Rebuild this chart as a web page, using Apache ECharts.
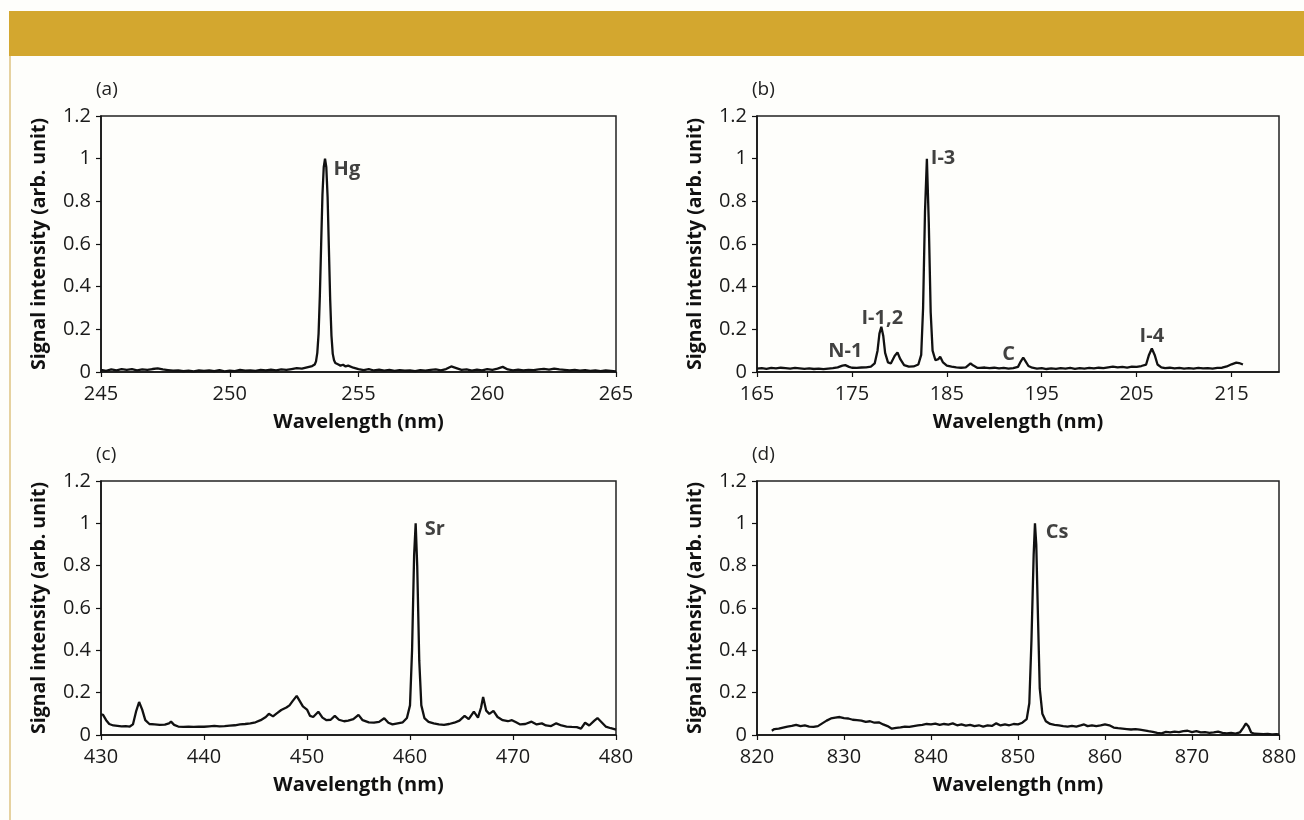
<!DOCTYPE html>
<html>
<head>
<meta charset="utf-8">
<script src="https://cdn.jsdelivr.net/npm/echarts@6/dist/echarts.min.js"></script>
<style>
html,body{margin:0;padding:0;background:#fefefb;}
#chart{width:1304px;height:820px;}
</style>
</head>
<body>
<div id="chart"></div>
<script>
// ---------- DATA ----------
const yTicks = [0, 0.2, 0.4, 0.6, 0.8, 1, 1.2];

// (a) Hg
const hgTicks = [245, 250, 255, 260, 265];
const hgWavelength = [245.0,245.2,245.4,245.6,245.8,246.0,246.2,246.4,246.6,246.8,247.0,247.2,247.4,247.6,247.8,248.0,248.2,248.4,248.6,248.8,249.0,249.2,249.4,249.6,249.8,250.0,250.2,250.4,250.6,250.8,251.0,251.2,251.4,251.6,251.8,252.0,252.2,252.4,252.6,252.8,253.0,253.2,253.3,253.35,253.4,253.45,253.5,253.55,253.6,253.65,253.7,253.75,253.8,253.85,253.9,253.95,254.0,254.05,254.1,254.2,254.3,254.4,254.5,254.6,254.8,255.0,255.2,255.4,255.6,255.8,256.0,256.2,256.4,256.6,256.8,257.0,257.2,257.4,257.6,257.8,258.0,258.2,258.4,258.6,258.8,259.0,259.2,259.4,259.6,259.8,260.0,260.2,260.4,260.6,260.8,261.0,261.2,261.4,261.6,261.8,262.0,262.2,262.4,262.6,262.8,263.0,263.2,263.4,263.6,263.8,264.0,264.2,264.4,264.6,264.8,265.0];
const hgIntensity = [0.010,0.005,0.012,0.008,0.014,0.010,0.013,0.008,0.012,0.010,0.014,0.017,0.012,0.009,0.006,0.008,0.004,0.006,0.003,0.007,0.005,0.008,0.004,0.009,0.003,0.006,0.004,0.010,0.006,0.008,0.005,0.010,0.007,0.011,0.008,0.012,0.010,0.014,0.018,0.016,0.022,0.028,0.035,0.050,0.090,0.180,0.360,0.600,0.830,0.960,1.000,0.960,0.820,0.580,0.340,0.170,0.085,0.055,0.042,0.036,0.030,0.034,0.026,0.030,0.020,0.014,0.009,0.013,0.007,0.011,0.006,0.010,0.005,0.009,0.006,0.008,0.004,0.009,0.006,0.010,0.012,0.008,0.014,0.026,0.018,0.010,0.012,0.006,0.011,0.008,0.014,0.010,0.016,0.024,0.012,0.008,0.011,0.007,0.010,0.009,0.012,0.015,0.011,0.016,0.012,0.010,0.007,0.010,0.006,0.009,0.005,0.008,0.004,0.007,0.005,0.003];
const hgLabels = [[254.55, 0.95, 'Hg']];

// (b) iodine
const iTicks = [165, 175, 185, 195, 205, 215];
const iWavelength = [165.0,165.5,166.0,166.5,167.0,167.5,168.0,168.5,169.0,169.5,170.0,170.5,171.0,171.5,172.0,172.5,173.0,173.5,174.0,174.3,174.7,175.0,175.5,176.0,176.5,177.0,177.4,177.7,177.9,178.1,178.3,178.5,178.8,179.1,179.5,179.8,180.1,180.5,181.0,181.5,182.0,182.3,182.5,182.7,182.9,183.1,183.3,183.5,183.8,184.1,184.3,184.6,185.0,185.5,186.0,186.5,187.0,187.5,187.8,188.2,188.5,189.0,189.5,190.0,190.5,191.0,191.5,192.0,192.5,192.8,193.05,193.3,193.6,194.0,194.5,195.0,195.5,196.0,196.5,197.0,197.5,198.0,198.5,199.0,199.5,200.0,200.5,201.0,201.5,202.0,202.5,203.0,203.5,204.0,204.5,205.0,205.5,206.0,206.3,206.6,206.9,207.2,207.6,208.0,208.5,209.0,209.5,210.0,210.5,211.0,211.5,212.0,212.5,213.0,213.5,214.0,214.5,215.0,215.5,215.8,216.2];
const iIntensity = [0.016,0.018,0.015,0.019,0.017,0.020,0.018,0.016,0.019,0.017,0.015,0.017,0.014,0.016,0.013,0.016,0.018,0.022,0.030,0.032,0.024,0.020,0.019,0.021,0.022,0.025,0.040,0.100,0.180,0.212,0.170,0.090,0.045,0.040,0.075,0.092,0.060,0.032,0.025,0.026,0.035,0.080,0.300,0.750,1.000,0.700,0.280,0.100,0.055,0.060,0.072,0.045,0.030,0.025,0.022,0.020,0.022,0.040,0.030,0.020,0.019,0.021,0.018,0.020,0.017,0.019,0.016,0.018,0.024,0.050,0.068,0.050,0.028,0.020,0.016,0.018,0.014,0.017,0.015,0.018,0.016,0.019,0.015,0.018,0.016,0.019,0.017,0.020,0.018,0.022,0.025,0.022,0.024,0.021,0.025,0.024,0.028,0.035,0.080,0.110,0.080,0.035,0.022,0.018,0.020,0.017,0.019,0.016,0.018,0.016,0.019,0.017,0.018,0.016,0.019,0.020,0.026,0.036,0.044,0.042,0.035];
const iLabels = [[174.3, 0.096, 'N-1'], [178.2, 0.25, 'I-1,2'], [184.6, 1.0, 'I-3'], [191.5, 0.083, 'C'], [206.6, 0.167, 'I-4']];

// (c) Sr
const srTicks = [430, 440, 450, 460, 470, 480];
const srWavelength = [430.0,430.2,430.5,430.8,431.2,431.6,432.0,432.4,432.8,433.1,433.4,433.7,434.0,434.3,434.7,435.2,435.7,436.2,436.6,436.8,437.1,437.5,438.0,438.5,439.0,439.5,440.0,440.5,441.0,441.5,442.0,442.5,443.0,443.5,444.0,444.5,445.0,445.5,446.0,446.3,446.7,447.0,447.5,448.0,448.3,448.6,449.0,449.3,449.6,450.0,450.3,450.6,451.1,451.5,451.9,452.3,452.7,453.1,453.6,454.0,454.5,455.0,455.4,456.0,456.5,457.0,457.5,457.9,458.3,458.8,459.3,459.7,460.0,460.2,460.4,460.55,460.7,460.9,461.1,461.4,461.8,462.3,462.8,463.3,463.8,464.3,464.8,465.3,465.7,466.2,466.6,466.9,467.1,467.4,467.7,468.1,468.5,469.0,469.5,469.9,470.3,470.7,471.2,471.8,472.3,472.8,473.2,473.7,474.2,474.7,475.2,475.7,476.2,476.6,477.0,477.4,477.9,478.2,478.6,479.0,479.5,480.0];
const srIntensity = [0.098,0.095,0.070,0.052,0.045,0.043,0.041,0.042,0.040,0.050,0.110,0.156,0.120,0.070,0.052,0.050,0.048,0.049,0.055,0.063,0.048,0.040,0.038,0.039,0.038,0.040,0.039,0.041,0.043,0.041,0.042,0.044,0.046,0.050,0.052,0.055,0.060,0.070,0.085,0.100,0.088,0.100,0.118,0.130,0.140,0.160,0.185,0.160,0.135,0.120,0.090,0.085,0.110,0.082,0.070,0.072,0.090,0.072,0.065,0.068,0.075,0.095,0.070,0.060,0.058,0.062,0.079,0.058,0.050,0.055,0.060,0.080,0.140,0.400,0.850,1.000,0.800,0.350,0.140,0.080,0.062,0.055,0.050,0.048,0.052,0.058,0.068,0.090,0.075,0.110,0.082,0.130,0.180,0.115,0.100,0.114,0.085,0.070,0.065,0.070,0.060,0.050,0.052,0.063,0.050,0.055,0.045,0.042,0.055,0.045,0.040,0.038,0.037,0.030,0.058,0.045,0.068,0.080,0.060,0.040,0.032,0.025];
const srLabels = [[462.4, 0.97, 'Sr']];

// (d) Cs
const csTicks = [820, 830, 840, 850, 860, 870, 880];
const csWavelength = [821.7,822.0,822.5,823.0,823.5,824.0,824.5,825.0,825.5,826.0,826.5,827.0,827.5,828.0,828.5,829.0,829.5,830.0,830.5,831.0,831.5,832.0,832.5,833.0,833.5,834.0,834.5,835.0,835.5,836.0,836.5,837.0,837.5,838.0,838.5,839.0,839.5,840.0,840.5,841.0,841.5,842.0,842.5,843.0,843.5,844.0,844.5,845.0,845.5,846.0,846.5,847.0,847.5,848.0,848.5,849.0,849.5,850.0,850.5,851.0,851.3,851.55,851.8,851.95,852.1,852.3,852.5,852.8,853.2,853.7,854.2,854.7,855.2,855.7,856.2,856.7,857.2,857.6,858.0,858.5,859.0,859.5,860.0,860.5,861.0,861.5,862.0,862.5,863.0,863.5,864.0,864.5,865.0,865.5,866.0,866.5,867.0,867.5,868.0,868.5,869.0,869.5,870.0,870.5,871.0,871.5,872.0,872.5,873.0,873.5,874.0,874.5,875.0,875.5,875.9,876.2,876.5,876.8,877.2,877.7,878.2,878.7,879.2,879.7,880.0];
const csIntensity = [0.020,0.028,0.030,0.035,0.040,0.043,0.048,0.042,0.045,0.040,0.038,0.042,0.055,0.068,0.078,0.082,0.085,0.080,0.078,0.072,0.070,0.068,0.062,0.065,0.058,0.060,0.050,0.042,0.030,0.034,0.036,0.040,0.038,0.042,0.045,0.048,0.052,0.050,0.054,0.048,0.052,0.049,0.055,0.046,0.050,0.044,0.048,0.042,0.046,0.040,0.045,0.043,0.055,0.045,0.050,0.046,0.052,0.050,0.058,0.075,0.150,0.450,0.850,1.000,0.900,0.550,0.220,0.100,0.065,0.052,0.048,0.045,0.042,0.040,0.043,0.040,0.045,0.050,0.042,0.046,0.042,0.045,0.050,0.046,0.035,0.032,0.030,0.028,0.026,0.028,0.025,0.022,0.018,0.015,0.010,0.008,0.015,0.012,0.016,0.014,0.018,0.020,0.014,0.018,0.012,0.014,0.010,0.012,0.016,0.010,0.008,0.010,0.007,0.012,0.035,0.055,0.040,0.012,0.006,0.005,0.004,0.005,0.003,0.004,0.003];
const csLabels = [[854.5, 0.958, 'Cs']];

// ---------- CHART ----------
const FONT = 'Open Sans';
const panels = [
  {x: hgWavelength, y: hgIntensity, ticks: hgTicks, min: 245, max: 265, labels: hgLabels, tag: '(a)',
   grid: {left: 101, top: 116, width: 515, height: 256}},
  {x: iWavelength, y: iIntensity, ticks: iTicks, min: 165, max: 220, labels: iLabels, tag: '(b)',
   grid: {left: 757, top: 116, width: 522, height: 256}},
  {x: srWavelength, y: srIntensity, ticks: srTicks, min: 430, max: 480, labels: srLabels, tag: '(c)',
   grid: {left: 101, top: 481, width: 515, height: 254}},
  {x: csWavelength, y: csIntensity, ticks: csTicks, min: 820, max: 880, labels: csLabels, tag: '(d)',
   grid: {left: 757, top: 481, width: 522, height: 254}}
];

const grids = [], xAxes = [], yAxes = [], series = [], graphics = [];
graphics.push({type: 'rect', left: 9, top: 11, shape: {width: 1295, height: 45}, style: {fill: '#d3a72f'}, silent: true});
graphics.push({type: 'line', shape: {x1: 10, y1: 56, x2: 10, y2: 820}, style: {stroke: '#e6d2a0', lineWidth: 2}, silent: true});

panels.forEach((p, i) => {
  grids.push(Object.assign({show: true, borderColor: '#222', borderWidth: 1.5, backgroundColor: 'transparent'}, p.grid));
  xAxes.push({
    gridIndex: i, type: 'value', min: p.min, max: p.max,
    name: 'Wavelength (nm)', nameLocation: 'middle', nameGap: 40,
    nameTextStyle: {fontFamily: FONT, fontWeight: 'bold', fontSize: 20, color: '#111'},
    axisLine: {lineStyle: {color: '#111', width: 1.5}},
    axisTick: {show: true, length: 5, customValues: p.ticks, lineStyle: {color: '#111', width: 1.2}},
    axisLabel: {customValues: p.ticks, margin: 12, fontFamily: FONT, fontSize: 20, color: '#1a1a1a'},
    splitLine: {show: false}
  });
  yAxes.push({
    gridIndex: i, type: 'value', min: 0, max: 1.2,
    name: 'Signal intensity (arb. unit)', nameLocation: 'middle', nameGap: 52,
    nameTextStyle: {fontFamily: FONT, fontWeight: 'bold', fontSize: 19.5, color: '#111'},
    axisLine: {lineStyle: {color: '#111', width: 1.5}},
    axisTick: {show: true, length: 5, customValues: yTicks, lineStyle: {color: '#111', width: 1.2}},
    axisLabel: {customValues: yTicks, margin: 10, fontFamily: FONT, fontSize: 20, color: '#1a1a1a'},
    splitLine: {show: false}
  });
  series.push({
    type: 'line', xAxisIndex: i, yAxisIndex: i, showSymbol: false, symbol: 'none',
    data: p.x.map((w, k) => [w, p.y[k]]),
    lineStyle: {color: '#111', width: 2.3}, animation: false, silent: true
  });
  series.push({
    type: 'scatter', xAxisIndex: i, yAxisIndex: i, symbolSize: 0,
    data: p.labels,
    label: {show: true, position: 'inside', formatter: d => d.data[2],
      fontFamily: FONT, fontWeight: 'bold', fontSize: 20, color: '#111'},
    animation: false, silent: true
  });
  graphics.push({type: 'text', left: p.grid.left - 5, top: p.grid.top - 36,
    style: {text: p.tag, fontFamily: FONT, fontSize: 19, fill: '#222'}, silent: true});
});

const chart = echarts.init(document.getElementById('chart'));
chart.setOption({
  backgroundColor: '#fefefb',
  animation: false,
  grid: grids, xAxis: xAxes, yAxis: yAxes, series: series, graphic: graphics
});
</script>
</body>
</html>
